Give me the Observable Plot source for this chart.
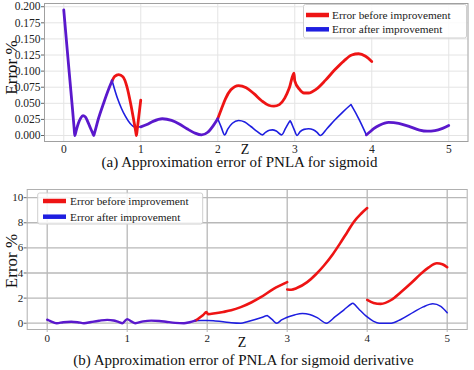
<!DOCTYPE html>
<html><head><meta charset="utf-8">
<script src="https://cdn.jsdelivr.net/npm/d3@7"></script>
<script src="https://cdn.jsdelivr.net/npm/@observablehq/plot@0.6"></script>
<style>
body{margin:0;background:#fff;}
#root{position:relative;width:474px;height:370px;overflow:hidden;font-family:"Liberation Serif",serif;}
#root svg{position:absolute;left:0;}
#root svg, #root svg text{font-family:"Liberation Serif",serif !important;}
</style>
</head><body>
<div id="root"></div>
<script>
// ---------- data: chart (a) sigmoid ----------
const topXTicks = [0, 1, 2, 3, 4, 5];
const topYTicks = [0, 0.025, 0.05, 0.075, 0.1, 0.125, 0.15, 0.175, 0.2];
// segments where both errors coincide
const topShared = [
  [0,0.195],[0.04,0.14],[0.08,0.086],[0.115,0.039],[0.135,0.011],[0.143,0],
  [0.16,0.007],[0.19,0.019],[0.22,0.027],[0.25,0.031],[0.28,0.029],[0.31,0.022],[0.345,0.012],[0.375,0.004],[0.39,0],
  [0.40,0.004],[0.45,0.026],[0.52,0.051],[0.58,0.071],[0.628,0.085],
  [0.628,null],
  [1.0,0.0135],[1.08,0.017],[1.16,0.022],[1.28,0.026],[1.4,0.0235],[1.5,0.018],[1.6,0.0105],[1.7,0.004],[1.79,0.001],[1.87,0.005],[1.94,0.015],[2.0,0.026],
  [2.0,null],
  [3.93,0.001],[3.97,0.005],[4.03,0.011],[4.1,0.016],[4.22,0.0205],[4.35,0.019],[4.5,0.0135],[4.62,0.0085],[4.72,0.0067],[4.82,0.0075],[4.92,0.011],[5.0,0.0155]
];
// error before improvement (where it differs)
const topBefore = [
  [0.628,0.085],[0.66,0.0915],[0.714,0.0947],[0.77,0.091],[0.82,0.076],[0.87,0.049],[0.91,0.023],[0.935,0.006],[0.944,0],[0.953,0.008],[0.975,0.03],[1.0,0.055],
  [1.0,null],
  [2.0,0.026],[2.05,0.042],[2.1,0.057],[2.17,0.071],[2.27,0.0776],[2.37,0.074],[2.47,0.065],[2.57,0.054],[2.66,0.047],[2.73,0.0455],[2.8,0.048],[2.87,0.058],[2.93,0.074],[2.99,0.0968],[3.0,0.085],[3.06,0.072],[3.12,0.066],[3.18,0.066],[3.28,0.072],[3.4,0.086],[3.52,0.102],[3.64,0.116],[3.74,0.125],[3.83,0.127],[3.92,0.123],[4.0,0.115]
];
// error after improvement (where it differs)
const topAfter = [
  [0.628,0.085],[0.66,0.072],[0.7,0.057],[0.75,0.042],[0.8,0.03],[0.86,0.019],[0.93,0.0128],[1.0,0.0135],
  [1.0,null],
  [2.0,0.026],[2.045,0.013],[2.09,0.001],[2.13,0.01],[2.19,0.019],[2.27,0.0233],[2.35,0.021],[2.43,0.014],[2.51,0.0065],[2.58,0.001],[2.62,0.005],[2.67,0.0082],[2.71,0.0088],[2.76,0.007],[2.83,0.001],[2.88,0.011],[2.93,0.0215],[2.94,0.023],[2.95,0.021],[2.99,0.01],[3.03,0],[3.07,0.006],[3.12,0.0095],[3.18,0.0104],[3.24,0.009],[3.29,0.005],[3.33,0],[3.42,0.011],[3.52,0.024],[3.62,0.036],[3.72,0.047],[3.73,0.048],[3.74,0.046],[3.84,0.024],[3.93,0.001]
];

// ---------- data: chart (b) sigmoid derivative ----------
const botXTicks = [0, 1, 2, 3, 4, 5];
const botYTicks = [0, 2, 4, 6, 8, 10];
const botShared = [
  [0,0.28],[0.04,0.17],[0.08,0.06],[0.12,0],[0.2,0.08],[0.3,0.12],[0.38,0.08],[0.46,0],[0.55,0.1],[0.65,0.2],[0.75,0.27],[0.83,0.22],[0.89,0.1],[0.94,0],[0.97,0.17],[1.0,0.33],[1.05,0.15],[1.1,0],[1.2,0.15],[1.3,0.21],[1.4,0.18],[1.5,0.1],[1.6,0.03],[1.71,0],[1.78,0.08],[1.85,0.2]
];
const botBefore = [
  [1.85,0.2],[1.9,0.42],[1.95,0.66],[1.99,0.88],[2.01,0.72],[2.1,0.79],[2.2,0.9],[2.3,1.03],[2.42,1.28],[2.55,1.65],[2.67,2.07],[2.83,2.74],[3.0,3.27],
  [3.0,null],
  [3.0,2.69],[3.05,2.67],[3.12,2.8],[3.25,3.27],[3.36,3.9],[3.46,4.6],[3.57,5.5],[3.67,6.45],[3.75,7.25],[3.83,8.05],[3.92,8.7],[4.0,9.17],
  [4.0,null],
  [4.0,1.86],[4.08,1.62],[4.17,1.54],[4.3,1.85],[4.42,2.47],[4.55,3.2],[4.67,3.93],[4.77,4.45],[4.87,4.78],[4.94,4.7],[5.0,4.46]
];
const botAfter = [
  [1.85,0.2],[1.92,0.22],[2.0,0.22],[2.1,0.18],[2.2,0.12],[2.3,0.04],[2.42,0],[2.5,0.12],[2.6,0.3],[2.68,0.46],[2.74,0.59],[2.75,0.61],[2.76,0.57],[2.81,0.3],[2.87,0],[2.93,0.26],[3.0,0.48],[3.1,0.68],[3.19,0.77],[3.28,0.7],[3.38,0.42],[3.49,0],[3.6,0.52],[3.71,1.07],[3.81,1.57],[3.82,1.6],[3.83,1.56],[3.9,1.1],[4.0,0.5],[4.08,0.15],[4.15,0],[4.3,0],[4.42,0.3],[4.58,0.88],[4.7,1.3],[4.82,1.55],[4.92,1.35],[5.0,0.83]
];

const seriesNames = ["Error before improvement", "Error after improvement"];
const RED = "#ee1414", BLUE = "#1e1ee0", PURPLE = "#5a18cc";
const FONT = "Liberation Serif";

const X = d => d[0], Y = d => d[1];

const chartA = Plot.plot({
  width: 474, height: 157,
  marginLeft: 44, marginRight: 6.5, marginTop: 3, marginBottom: 16,
  x: {domain: [-0.25, 5.25]},
  y: {domain: [-0.0093, 0.205]},
  style: {fontFamily: FONT, background: "transparent", overflow: "visible", color: "#222"},
  marks: [
    Plot.gridX(topXTicks, {stroke: "#e4e4e4", strokeOpacity: 1}),
    Plot.gridY(topYTicks, {stroke: "#e4e4e4", strokeOpacity: 1}),
    Plot.axisX(topXTicks, {tickSize: 0, tickPadding: 3, fontSize: 11.5, fontFamily: FONT, label: null, tickFormat: d => String(d)}),
    Plot.axisY(topYTicks, {tickSize: 3, tickPadding: 1, fontSize: 11.5, fontFamily: FONT, label: null, tickFormat: d3.format(".3f"), stroke: "#666"}),
    Plot.line(topAfter, {x: X, y: Y, stroke: BLUE, strokeWidth: 1.6, curve: "monotone-x"}),
    Plot.line(topBefore, {x: X, y: Y, stroke: RED, strokeWidth: 2.8, curve: "monotone-x"}),
    Plot.line(topShared, {x: X, y: Y, stroke: PURPLE, strokeWidth: 2.8, curve: "monotone-x"}),
    Plot.frame({stroke: "#a0a0a0"})
  ]
});
chartA.style.top = "0px";

const chartB = Plot.plot({
  width: 474, height: 166,
  marginLeft: 26.7, marginRight: 7.3, marginTop: 9, marginBottom: 17,
  x: {domain: [-0.25, 5.25]},
  y: {domain: [-0.5, 10.65]},
  style: {fontFamily: FONT, background: "transparent", overflow: "visible", color: "#222"},
  marks: [
    Plot.gridX(botXTicks, {stroke: "#b8b8b8", strokeOpacity: 1, strokeWidth: 1.3}),
    Plot.gridY(botYTicks, {stroke: "#b8b8b8", strokeOpacity: 1, strokeWidth: 1.3}),
    Plot.axisX(botXTicks, {tickSize: 3, tickPadding: 2, fontSize: 11, fontFamily: FONT, label: null, stroke: "#b8b8b8", tickFormat: d => String(d)}),
    Plot.axisY(botYTicks, {tickSize: 3, tickPadding: 1, fontSize: 11, fontFamily: FONT, label: null, stroke: "#666", tickFormat: d => String(d)}),
    Plot.line(botAfter, {x: X, y: Y, stroke: BLUE, strokeWidth: 1.5, curve: "monotone-x"}),
    Plot.line(botBefore, {x: X, y: Y, stroke: RED, strokeWidth: 2.6, curve: "monotone-x"}),
    Plot.line(botShared, {x: X, y: Y, stroke: PURPLE, strokeWidth: 2.4, curve: "monotone-x"}),
    Plot.frame({stroke: "#b0b0b0"})
  ]
});
chartB.style.top = "180px";

const root = document.getElementById("root");
root.appendChild(chartA);
root.appendChild(chartB);

// ---------- overlay: labels, captions, legends ----------
const ov = d3.create("svg").attr("width", 474).attr("height", 370)
  .style("top", "0px").style("font-family", FONT);

function label(x, y, txt, size, rot) {
  const t = ov.append("text").attr("text-anchor", "middle").attr("font-size", size).attr("fill", "#111").text(txt);
  if (rot) t.attr("transform", `translate(${x},${y}) rotate(-90)`);
  else t.attr("x", x).attr("y", y);
}
label(17, 67.5, "Error %", 17, true);
label(17, 261, "Error %", 17, true);
label(245, 153.5, "Z", 14);
label(242, 346.5, "Z", 14);
label(239.5, 167, "(a) Approximation error of PNLA for sigmoid", 15);
label(243.4, 365, "(b) Approximation error of PNLA for sigmoid derivative", 15);

function legend(x0, y0, w, h, sx0, sx1, tx, rows) {
  ov.append("rect").attr("x", x0).attr("y", y0).attr("width", w).attr("height", h)
    .attr("rx", 2).attr("fill", "rgba(255,255,255,0.85)").attr("stroke", "#cfcfcf");
  rows.forEach(r => {
    ov.append("line").attr("x1", sx0).attr("x2", sx1).attr("y1", r.y).attr("y2", r.y)
      .attr("stroke", r.color).attr("stroke-width", 4.5);
    ov.append("text").attr("x", tx).attr("y", r.base).attr("font-size", 11.3).attr("fill", "#222").text(r.name);
  });
}
legend(303.5, 4.5, 163, 33.5, 306, 329, 332, [
  {name: seriesNames[0], color: RED, y: 15, base: 19},
  {name: seriesNames[1], color: BLUE, y: 29.3, base: 33.3}
]);
legend(37.7, 193, 165, 31, 43, 66, 70, [
  {name: seriesNames[0], color: RED, y: 201, base: 205},
  {name: seriesNames[1], color: BLUE, y: 216.7, base: 220.7}
]);
root.appendChild(ov.node());
</script>
</body></html>
